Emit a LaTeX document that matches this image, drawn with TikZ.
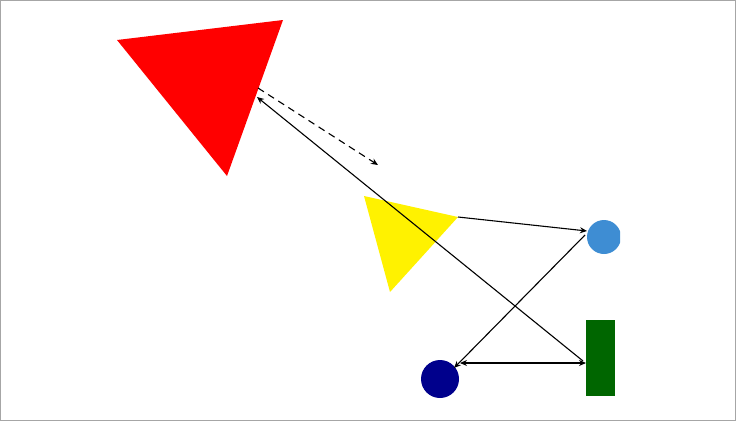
\documentclass[tikz,border=0pt]{standalone}
\usetikzlibrary{arrows.meta}
\begin{document}
\begin{tikzpicture}[x=1pt,y=-1pt,
  conn/.style={draw=black,line width=1.1pt,-{Stealth[length=7pt,width=6pt]}},
  bconn/.style={draw=black,line width=1.1pt,{Stealth[length=7pt,width=6pt]}-{Stealth[length=7pt,width=6pt]}}]
\useasboundingbox (0,0) rectangle (736,421);
\draw[gray!70,line width=1pt] (0.5,0.5) rectangle (735.5,420.5);
\fill[red] (117,40) -- (283,20) -- (227,176) -- cycle;
\fill[yellow] (364,196) -- (458,217) -- (390,292) -- cycle;
\begin{scope}
\clip (560,200) rectangle (620,280);
\fill[cyan!60!blue!80] (604,237) circle (17);
\end{scope}
\fill[blue!55!black] (440,379) circle (19);
\fill[green!40!black] (586,320) rectangle (615,396);
\coordinate (rA) at (258,88);
\coordinate (rB) at (378,165);
\coordinate (rC) at (257,97);
\coordinate (g1) at (583,361);
\coordinate (y1) at (458,217);
\coordinate (c1) at (587,231);
\coordinate (c2) at (585,235);
\coordinate (d1) at (454,368);
\coordinate (d2) at (460,363);
\coordinate (g2) at (586,363);
\draw[conn,dashed,dash pattern=on 7pt off 5pt] (rA) -- (rB);
\draw[conn] (g1) -- (rC);
\draw[conn] (y1) -- (c1);
\draw[conn] (c2) -- (d1);
\draw[bconn] (d2) -- (g2);
\end{tikzpicture}
\end{document}
